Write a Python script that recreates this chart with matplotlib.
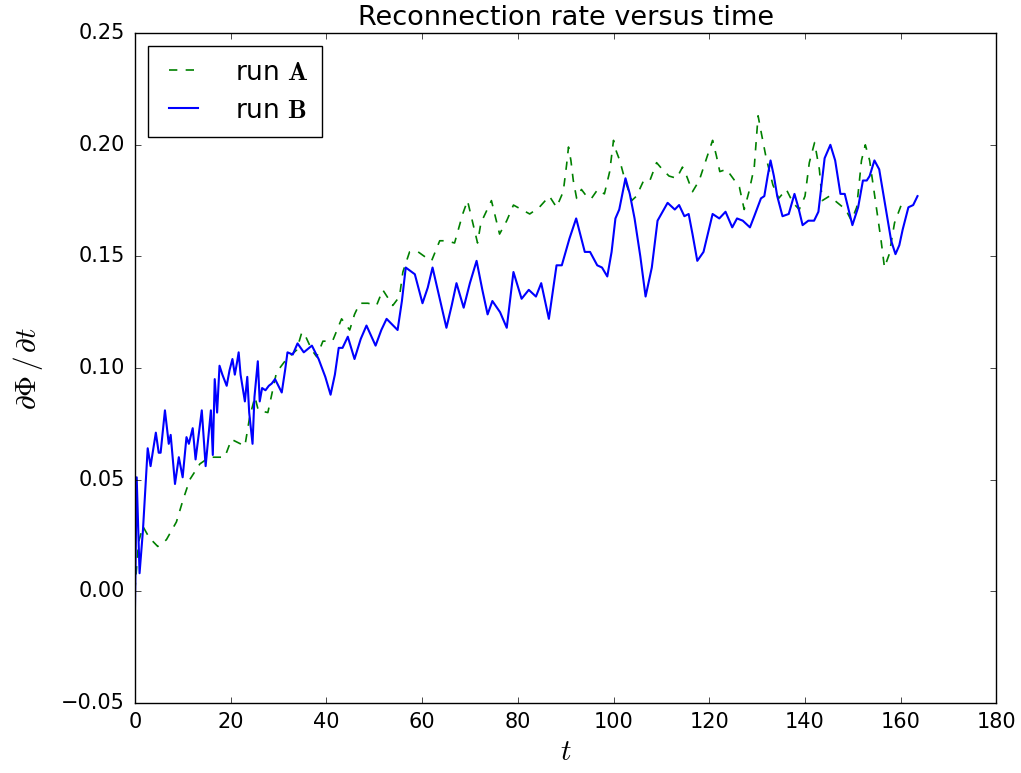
import matplotlib
matplotlib.use("Agg")
import matplotlib.pyplot as plt
import numpy as np

plt.style.use("classic")
plt.rcParams["mathtext.fontset"] = "cm"

# ── run A (dashed green) ─────────────────────────────────────────────────────
t_a = [0.0, 0.8, 1.7, 3.0, 4.8, 6.6, 8.7, 10.1, 11.5, 13.6, 15.6, 18.8, 20.2,
       23.0, 24.0, 25.1, 25.8, 27.8, 29.6, 31.7, 33.8, 34.9, 35.5, 37.0, 38.0,
       39.3, 41.3, 43.2, 44.9, 45.9, 47.0, 48.7, 50.5, 51.8, 53.9, 55.3, 56.0,
       57.4, 59.2, 60.5, 62.0, 63.7, 65.1, 66.8, 68.5, 69.5, 71.6, 72.3, 74.5,
       76.2, 77.7, 79.1, 82.5, 84.5, 86.6, 88.1, 89.5, 90.2, 90.6, 91.1, 91.6,
       92.3, 93.3, 94.7, 95.4, 96.7, 98.1, 99.2, 100.0, 100.6, 101.3, 102.3,
       103.8, 104.8, 106.3, 107.6, 109.0, 110.2, 111.6, 113.2, 114.4, 115.1,
       116.5, 117.9, 119.6, 120.7, 121.5, 122.2, 123.6, 125.3, 126.3, 127.3,
       128.3, 129.4, 130.2, 130.9, 131.9, 133.3, 134.5, 136.1, 137.5, 138.8,
       140.0, 140.9, 142.0, 143.0, 143.6, 145.1, 146.8, 148.5, 149.7, 150.8,
       151.8, 152.6, 153.5, 154.5, 155.9, 156.6, 157.6, 158.7, 160.1, 161.1]
rate_a = [0.000, 0.022, 0.029, 0.024, 0.020, 0.023, 0.031, 0.041, 0.050, 0.057,
          0.060, 0.060, 0.068, 0.065, 0.078, 0.087, 0.081, 0.080, 0.098, 0.104,
          0.108, 0.116, 0.115, 0.108, 0.105, 0.112, 0.112, 0.122, 0.117, 0.124,
          0.129, 0.129, 0.128, 0.135, 0.128, 0.132, 0.143, 0.152, 0.152, 0.150,
          0.148, 0.157, 0.157, 0.156, 0.169, 0.175, 0.156, 0.165, 0.175, 0.160,
          0.166, 0.173, 0.169, 0.172, 0.177, 0.172, 0.179, 0.191, 0.199, 0.193,
          0.184, 0.176, 0.180, 0.176, 0.176, 0.180, 0.178, 0.188, 0.202, 0.197,
          0.193, 0.185, 0.175, 0.177, 0.184, 0.184, 0.192, 0.189, 0.186, 0.185,
          0.190, 0.187, 0.179, 0.184, 0.195, 0.202, 0.195, 0.188, 0.189, 0.184,
          0.181, 0.171, 0.179, 0.190, 0.213, 0.205, 0.194, 0.182, 0.176, 0.180,
          0.174, 0.171, 0.177, 0.192, 0.201, 0.189, 0.175, 0.177, 0.174, 0.171,
          0.166, 0.172, 0.193, 0.200, 0.193, 0.178, 0.157, 0.145, 0.151, 0.165,
          0.173, 0.175]

# ── run B (solid blue) ───────────────────────────────────────────────────────
t_b = [0.0, 0.4, 1.0, 1.7, 2.7, 3.3, 4.4, 5.0, 5.4, 6.3, 7.1, 7.5, 8.4, 9.2,
       10.0, 10.8, 11.3, 12.1, 12.7, 14.0, 14.8, 15.9, 16.3, 16.7, 17.2, 17.7,
       18.3, 19.2, 19.8, 20.4, 20.9, 21.4, 21.7, 22.1, 23.0, 23.5, 23.9, 24.6,
       25.0, 25.7, 26.1, 26.6, 27.3, 28.0, 28.6, 29.3, 30.7, 31.4, 31.9, 33.0,
       34.0, 35.3, 37.0, 38.4, 39.8, 40.9, 41.8, 42.6, 43.4, 44.5, 45.9, 47.2,
       48.4, 50.3, 51.5, 52.6, 54.9, 55.8, 56.6, 58.5, 60.1, 61.2, 62.2, 63.8,
       65.1, 66.2, 67.2, 68.7, 70.0, 71.4, 72.6, 73.7, 74.7, 76.3, 77.7, 79.1,
       80.8, 82.3, 83.8, 84.9, 86.5, 88.1, 89.2, 90.8, 92.2, 94.0, 95.1, 96.6,
       97.6, 98.7, 99.6, 100.4, 101.2, 102.5, 103.4, 104.4, 105.6, 106.7, 108.0,
       109.2, 111.3, 112.8, 113.7, 114.8, 115.7, 116.5, 117.5, 118.8, 120.7,
       122.1, 123.4, 124.8, 125.8, 127.0, 128.5, 129.4, 130.8, 131.5, 132.2,
       132.8, 133.5, 134.2, 135.3, 136.6, 137.8, 138.6, 139.5, 140.7, 141.9,
       142.8, 144.1, 145.3, 146.3, 147.4, 148.3, 149.9, 151.1, 152.1, 152.9,
       153.5, 154.5, 155.5, 156.9, 158.0, 158.9, 159.7, 160.4, 161.6, 162.6,
       163.5]
rate_b = [-0.014, 0.051, 0.008, 0.027, 0.064, 0.056, 0.071, 0.062, 0.062, 0.081,
          0.066, 0.070, 0.048, 0.060, 0.051, 0.069, 0.066, 0.073, 0.059, 0.081,
          0.056, 0.081, 0.061, 0.095, 0.080, 0.101, 0.097, 0.092, 0.099, 0.104,
          0.097, 0.103, 0.107, 0.097, 0.085, 0.096, 0.080, 0.066, 0.087, 0.103,
          0.085, 0.091, 0.090, 0.092, 0.093, 0.095, 0.089, 0.099, 0.107, 0.106,
          0.111, 0.107, 0.110, 0.104, 0.096, 0.088, 0.097, 0.109, 0.109, 0.114,
          0.104, 0.113, 0.119, 0.110, 0.117, 0.122, 0.117, 0.130, 0.145, 0.142,
          0.129, 0.136, 0.145, 0.130, 0.118, 0.128, 0.138, 0.127, 0.138, 0.148,
          0.135, 0.124, 0.130, 0.125, 0.118, 0.143, 0.131, 0.135, 0.132, 0.138,
          0.122, 0.146, 0.146, 0.158, 0.167, 0.152, 0.152, 0.146, 0.145, 0.141,
          0.152, 0.167, 0.171, 0.185, 0.178, 0.167, 0.150, 0.132, 0.145, 0.166,
          0.174, 0.171, 0.173, 0.168, 0.169, 0.160, 0.148, 0.152, 0.169, 0.167,
          0.170, 0.163, 0.167, 0.166, 0.163, 0.168, 0.176, 0.177, 0.186, 0.193,
          0.186, 0.177, 0.168, 0.169, 0.178, 0.172, 0.164, 0.166, 0.166, 0.170,
          0.194, 0.200, 0.193, 0.178, 0.178, 0.164, 0.172, 0.184, 0.184, 0.186,
          0.193, 0.189, 0.171, 0.157, 0.151, 0.155, 0.162, 0.172, 0.173, 0.177]

fig = plt.figure(figsize=(10.21, 7.73), dpi=100)
ax = fig.add_axes([0.132, 0.091, 0.844, 0.866])

ax.plot(t_a, rate_a, color="g", linestyle="--", linewidth=1.2, label=r"run $\mathbf{A}$")
ax.plot(t_b, rate_b, color="b", linestyle="-", linewidth=1.5, label=r"run $\mathbf{B}$")

ax.set_xlim(0, 180)
ax.set_ylim(-0.05, 0.25)
ax.set_xticks(np.arange(0, 181, 20))
ax.set_yticks(np.arange(-0.05, 0.251, 0.05))
ax.set_yticklabels(["\u22120.05", "0.00", "0.05", "0.10", "0.15", "0.20", "0.25"])
ax.tick_params(labelsize=15, pad=7)

ax.set_title("Reconnection rate versus time", fontsize=19.5, pad=6)
ax.set_xlabel(r"$t$", fontsize=21, labelpad=4)
ax.set_ylabel(r"$\partial\Phi\,/\,\partial t$", fontsize=21, labelpad=12)

ax.legend(loc="upper left", fontsize=19, handlelength=1.7, handletextpad=1.1,
          borderpad=0.5, labelspacing=0.45, borderaxespad=0.5)

fig.savefig("out.png", dpi=100)
